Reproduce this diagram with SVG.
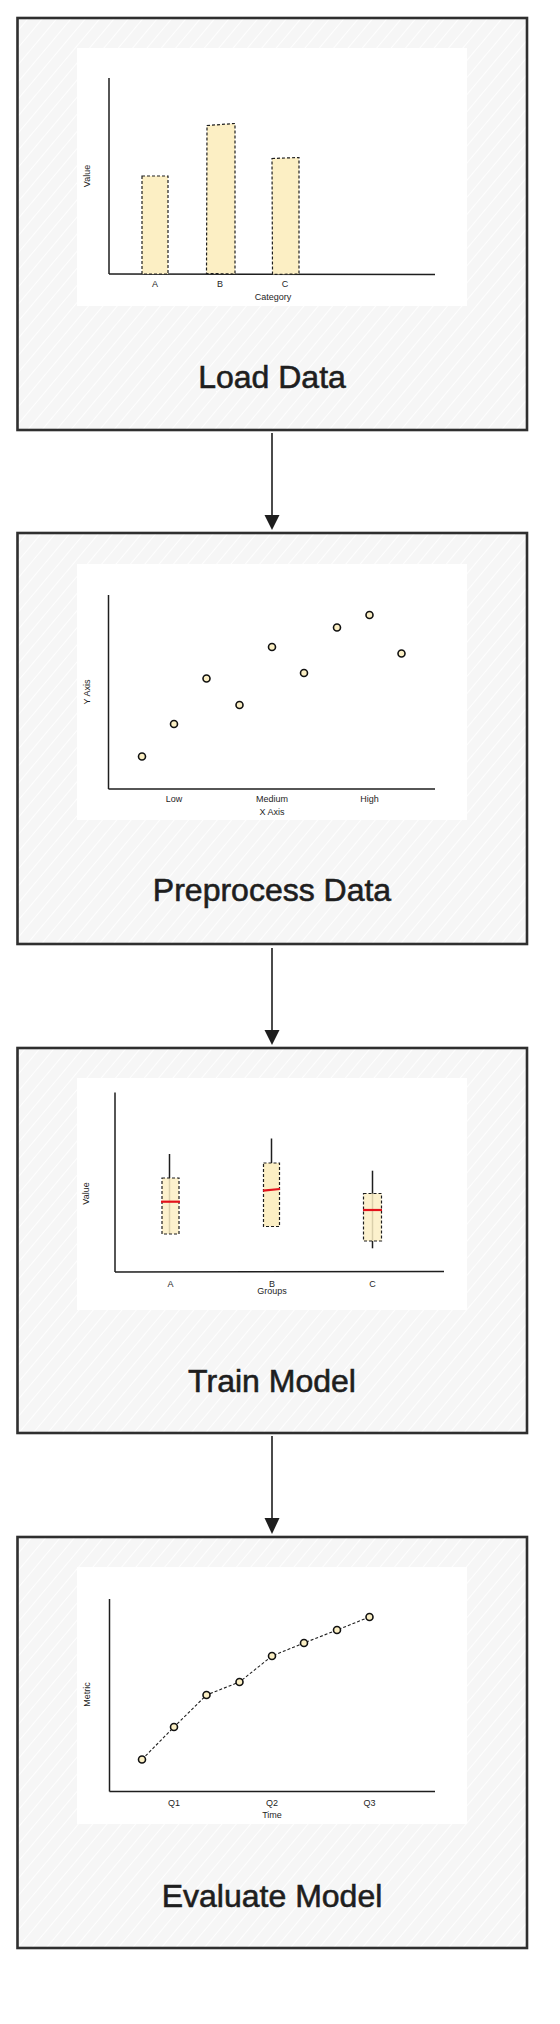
<svg xmlns="http://www.w3.org/2000/svg" width="560" height="2024" viewBox="0 0 560 2024">
<style>
.box{fill:url(#hatch);stroke:#2f2f2f;stroke-width:2.6}
.panel{fill:#ffffff}
.axis{stroke:#1e1e1e;stroke-width:1.5;fill:none}
.title{font-family:"Liberation Sans",Arial,sans-serif;font-size:32px;fill:#1e1e1e;stroke:#1e1e1e;stroke-width:0.6;text-anchor:middle}
.lbl{font-family:"Liberation Sans",Arial,sans-serif;font-size:9px;fill:#1e1e1e;text-anchor:middle}
.bar{fill:#fcefc4;stroke:#1e1e1e;stroke-width:1.2;stroke-dasharray:3 2}
.pt{fill:#fbefc4;stroke:#111;stroke-width:1.6}
.trend{fill:none;stroke:#1e1e1e;stroke-width:1.1;stroke-dasharray:3 2}
.whisk{stroke:#1e1e1e;stroke-width:1.5}
.med{stroke:#e3121b;stroke-width:2.2}
.conn{stroke:#1e1e1e;stroke-width:1.6;fill:none}
.head{fill:#1e1e1e}
</style>
<defs>
<pattern id="hatch" patternUnits="userSpaceOnUse" width="11" height="11" patternTransform="rotate(40)">
<rect width="11" height="11" fill="#f6f6f6"/>
<line x1="0" y1="0" x2="0" y2="11" stroke="#ffffff" stroke-width="1.8"/>
</pattern>
</defs>
<rect width="560" height="2024" fill="#ffffff"/>

<g id="connectors">
<line class="conn" x1="272" y1="433" x2="272" y2="516"/>
<polygon class="head" points="264.5,515 279.5,515 272,530"/>
<line class="conn" x1="272" y1="948" x2="272" y2="1031"/>
<polygon class="head" points="264.5,1030 279.5,1030 272,1045"/>
<line class="conn" x1="272" y1="1436" x2="272" y2="1519"/>
<polygon class="head" points="264.5,1518 279.5,1518 272,1534"/>
</g>

<g id="load-data">
<rect class="box" x="17.5" y="18" width="509.5" height="412"/>
<rect class="panel" x="77" y="48" width="390" height="258"/>
<line class="axis" x1="109" y1="78" x2="109" y2="274"/>
<line class="axis" x1="109" y1="274" x2="435" y2="274.5"/>
<rect class="bar" x="142" y="176" width="26" height="98"/>
<polygon class="bar" points="207,125.5 235,123.5 235,274 206.5,273.5"/>
<polygon class="bar" points="272,158.5 299,157.5 299,274 272.5,274.5"/>
<text class="lbl" x="155" y="287">A</text>
<text class="lbl" x="220" y="287">B</text>
<text class="lbl" x="285" y="287">C</text>
<text class="lbl" x="273" y="300">Category</text>
<text class="lbl" transform="translate(90,176) rotate(-90)">Value</text>
<text class="title" x="272" y="388">Load Data</text>
</g>

<g id="preprocess-data">
<rect class="box" x="17.5" y="533" width="509.5" height="411"/>
<rect class="panel" x="77" y="564" width="390" height="256"/>
<line class="axis" x1="108.5" y1="595" x2="108.5" y2="789"/>
<line class="axis" x1="108.5" y1="789" x2="435" y2="789"/>
<circle class="pt" cx="142" cy="756.5" r="3.5"/>
<circle class="pt" cx="174" cy="724" r="3.5"/>
<circle class="pt" cx="206.5" cy="678.5" r="3.5"/>
<circle class="pt" cx="239.5" cy="705" r="3.5"/>
<circle class="pt" cx="272" cy="647" r="3.5"/>
<circle class="pt" cx="304" cy="673" r="3.5"/>
<circle class="pt" cx="337" cy="627.5" r="3.5"/>
<circle class="pt" cx="369.5" cy="615" r="3.5"/>
<circle class="pt" cx="401.5" cy="653.5" r="3.5"/>
<text class="lbl" x="174" y="801.5">Low</text>
<text class="lbl" x="272" y="801.5">Medium</text>
<text class="lbl" x="369.5" y="801.5">High</text>
<text class="lbl" x="272" y="814.5">X Axis</text>
<text class="lbl" transform="translate(90,692) rotate(-90)">Y Axis</text>
<text class="title" x="272" y="901">Preprocess Data</text>
</g>

<g id="train-model">
<rect class="box" x="17.5" y="1048" width="509.5" height="385"/>
<rect class="panel" x="77" y="1078" width="390" height="232"/>
<line class="axis" x1="115" y1="1092.5" x2="115" y2="1272"/>
<line class="axis" x1="115" y1="1272" x2="444" y2="1271.5"/>
<line class="whisk" x1="169.5" y1="1154" x2="169.5" y2="1234"/>
<rect class="bar" x="162" y="1178" width="17" height="56" fill-opacity="0.85"/>
<line class="med" x1="161" y1="1201.7" x2="180" y2="1201.7"/>
<line class="whisk" x1="271.5" y1="1138.5" x2="271.5" y2="1226"/>
<rect class="bar" x="263.5" y="1163" width="16" height="63.5"/>
<line class="med" x1="263" y1="1190.6" x2="280" y2="1189"/>
<line class="whisk" x1="372.5" y1="1170.7" x2="372.5" y2="1248.3"/>
<rect class="bar" x="363.5" y="1193.5" width="18" height="47.5" fill-opacity="0.85"/>
<line class="med" x1="363" y1="1210" x2="382" y2="1210"/>
<text class="lbl" x="170.5" y="1286.5">A</text>
<text class="lbl" x="272" y="1286.5">B</text>
<text class="lbl" x="272" y="1293.5">Groups</text>
<text class="lbl" x="372.5" y="1286.5">C</text>
<text class="lbl" transform="translate(89,1193.5) rotate(-90)">Value</text>
<text class="title" x="272" y="1392">Train Model</text>
</g>

<g id="evaluate-model">
<rect class="box" x="17.5" y="1537" width="509.5" height="411"/>
<rect class="panel" x="77" y="1567" width="390" height="257"/>
<line class="axis" x1="109.5" y1="1599" x2="109.5" y2="1791.5"/>
<line class="axis" x1="109.5" y1="1791.5" x2="435" y2="1791.5"/>
<polyline class="trend" points="142,1759.5 174,1727 206.5,1695 239.5,1682 272,1656 304,1643 337,1630 369.5,1617"/>
<circle class="pt" cx="142" cy="1759.5" r="3.5"/>
<circle class="pt" cx="174" cy="1727" r="3.5"/>
<circle class="pt" cx="206.5" cy="1695" r="3.5"/>
<circle class="pt" cx="239.5" cy="1682" r="3.5"/>
<circle class="pt" cx="272" cy="1656" r="3.5"/>
<circle class="pt" cx="304" cy="1643" r="3.5"/>
<circle class="pt" cx="337" cy="1630" r="3.5"/>
<circle class="pt" cx="369.5" cy="1617" r="3.5"/>
<text class="lbl" x="174" y="1805.5">Q1</text>
<text class="lbl" x="272" y="1805.5">Q2</text>
<text class="lbl" x="369.5" y="1805.5">Q3</text>
<text class="lbl" x="272" y="1818">Time</text>
<text class="lbl" transform="translate(90,1694.5) rotate(-90)">Metric</text>
<text class="title" x="272" y="1907">Evaluate Model</text>
</g>
</svg>
